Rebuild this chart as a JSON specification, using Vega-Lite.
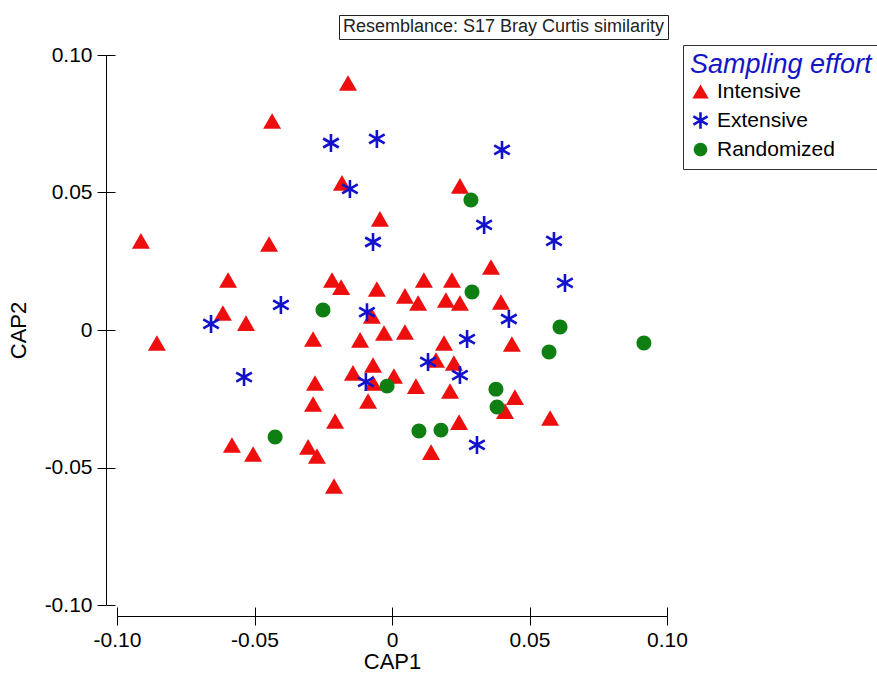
{
  "$schema": "https://vega.github.io/schema/vega-lite/v6.json",
  "width": 550,
  "height": 550,
  "autosize": {"type": "none"},
  "padding": {"left": 117, "top": 55, "right": 210, "bottom": 68},
  "background": "white",
  "config": {
    "view": {"stroke": null},
    "font": "Liberation Sans",
    "axis": {"grid": false, "domainColor": "#000", "tickColor": "#000", "labelColor": "#000", "titleColor": "#000", "titleFontWeight": "normal", "domainWidth": 1, "tickWidth": 1, "labelFlush": false}
  },
  "data": {
    "values": [
      {"cap1": -0.0160, "cap2": 0.0898, "effort": "Intensive"},
      {"cap1": -0.0436, "cap2": 0.0760, "effort": "Intensive"},
      {"cap1": -0.0182, "cap2": 0.0535, "effort": "Intensive"},
      {"cap1": 0.0247, "cap2": 0.0524, "effort": "Intensive"},
      {"cap1": -0.0044, "cap2": 0.0404, "effort": "Intensive"},
      {"cap1": -0.0913, "cap2": 0.0324, "effort": "Intensive"},
      {"cap1": -0.0447, "cap2": 0.0313, "effort": "Intensive"},
      {"cap1": 0.0360, "cap2": 0.0229, "effort": "Intensive"},
      {"cap1": -0.0596, "cap2": 0.0182, "effort": "Intensive"},
      {"cap1": -0.0218, "cap2": 0.0182, "effort": "Intensive"},
      {"cap1": -0.0185, "cap2": 0.0156, "effort": "Intensive"},
      {"cap1": -0.0055, "cap2": 0.0149, "effort": "Intensive"},
      {"cap1": 0.0116, "cap2": 0.0182, "effort": "Intensive"},
      {"cap1": 0.0218, "cap2": 0.0182, "effort": "Intensive"},
      {"cap1": 0.0047, "cap2": 0.0124, "effort": "Intensive"},
      {"cap1": 0.0095, "cap2": 0.0098, "effort": "Intensive"},
      {"cap1": 0.0196, "cap2": 0.0109, "effort": "Intensive"},
      {"cap1": 0.0247, "cap2": 0.0098, "effort": "Intensive"},
      {"cap1": 0.0396, "cap2": 0.0102, "effort": "Intensive"},
      {"cap1": -0.0615, "cap2": 0.0062, "effort": "Intensive"},
      {"cap1": -0.0531, "cap2": 0.0025, "effort": "Intensive"},
      {"cap1": -0.0073, "cap2": 0.0051, "effort": "Intensive"},
      {"cap1": -0.0855, "cap2": -0.0047, "effort": "Intensive"},
      {"cap1": -0.0287, "cap2": -0.0033, "effort": "Intensive"},
      {"cap1": -0.0116, "cap2": -0.0036, "effort": "Intensive"},
      {"cap1": -0.0029, "cap2": -0.0011, "effort": "Intensive"},
      {"cap1": 0.0047, "cap2": -0.0007, "effort": "Intensive"},
      {"cap1": 0.0189, "cap2": -0.0047, "effort": "Intensive"},
      {"cap1": 0.0225, "cap2": -0.0120, "effort": "Intensive"},
      {"cap1": 0.0436, "cap2": -0.0051, "effort": "Intensive"},
      {"cap1": 0.0160, "cap2": -0.0109, "effort": "Intensive"},
      {"cap1": -0.0069, "cap2": -0.0127, "effort": "Intensive"},
      {"cap1": -0.0142, "cap2": -0.0156, "effort": "Intensive"},
      {"cap1": 0.0007, "cap2": -0.0167, "effort": "Intensive"},
      {"cap1": -0.0069, "cap2": -0.0193, "effort": "Intensive"},
      {"cap1": 0.0087, "cap2": -0.0204, "effort": "Intensive"},
      {"cap1": 0.0211, "cap2": -0.0222, "effort": "Intensive"},
      {"cap1": -0.0087, "cap2": -0.0258, "effort": "Intensive"},
      {"cap1": -0.0207, "cap2": -0.0331, "effort": "Intensive"},
      {"cap1": 0.0244, "cap2": -0.0335, "effort": "Intensive"},
      {"cap1": 0.0142, "cap2": -0.0444, "effort": "Intensive"},
      {"cap1": -0.0211, "cap2": -0.0567, "effort": "Intensive"},
      {"cap1": 0.0447, "cap2": -0.0244, "effort": "Intensive"},
      {"cap1": 0.0411, "cap2": -0.0295, "effort": "Intensive"},
      {"cap1": 0.0575, "cap2": -0.0320, "effort": "Intensive"},
      {"cap1": -0.0582, "cap2": -0.0418, "effort": "Intensive"},
      {"cap1": -0.0505, "cap2": -0.0451, "effort": "Intensive"},
      {"cap1": -0.0305, "cap2": -0.0425, "effort": "Intensive"},
      {"cap1": -0.0273, "cap2": -0.0458, "effort": "Intensive"},
      {"cap1": -0.0280, "cap2": -0.0193, "effort": "Intensive"},
      {"cap1": -0.0287, "cap2": -0.0269, "effort": "Intensive"},
      {"cap1": -0.0222, "cap2": 0.0680, "effort": "Extensive"},
      {"cap1": -0.0055, "cap2": 0.0695, "effort": "Extensive"},
      {"cap1": 0.0400, "cap2": 0.0655, "effort": "Extensive"},
      {"cap1": -0.0153, "cap2": 0.0513, "effort": "Extensive"},
      {"cap1": 0.0335, "cap2": 0.0382, "effort": "Extensive"},
      {"cap1": -0.0069, "cap2": 0.0320, "effort": "Extensive"},
      {"cap1": 0.0589, "cap2": 0.0324, "effort": "Extensive"},
      {"cap1": 0.0629, "cap2": 0.0171, "effort": "Extensive"},
      {"cap1": -0.0404, "cap2": 0.0091, "effort": "Extensive"},
      {"cap1": -0.0658, "cap2": 0.0022, "effort": "Extensive"},
      {"cap1": -0.0091, "cap2": 0.0065, "effort": "Extensive"},
      {"cap1": 0.0425, "cap2": 0.0040, "effort": "Extensive"},
      {"cap1": 0.0273, "cap2": -0.0033, "effort": "Extensive"},
      {"cap1": -0.0538, "cap2": -0.0171, "effort": "Extensive"},
      {"cap1": 0.0131, "cap2": -0.0116, "effort": "Extensive"},
      {"cap1": 0.0247, "cap2": -0.0164, "effort": "Extensive"},
      {"cap1": -0.0095, "cap2": -0.0189, "effort": "Extensive"},
      {"cap1": 0.0309, "cap2": -0.0418, "effort": "Extensive"},
      {"cap1": 0.0287, "cap2": 0.0473, "effort": "Randomized"},
      {"cap1": 0.0291, "cap2": 0.0138, "effort": "Randomized"},
      {"cap1": -0.0251, "cap2": 0.0073, "effort": "Randomized"},
      {"cap1": 0.0611, "cap2": 0.0011, "effort": "Randomized"},
      {"cap1": 0.0571, "cap2": -0.0080, "effort": "Randomized"},
      {"cap1": 0.0916, "cap2": -0.0047, "effort": "Randomized"},
      {"cap1": -0.0018, "cap2": -0.0204, "effort": "Randomized"},
      {"cap1": 0.0378, "cap2": -0.0215, "effort": "Randomized"},
      {"cap1": 0.0382, "cap2": -0.0280, "effort": "Randomized"},
      {"cap1": 0.0098, "cap2": -0.0367, "effort": "Randomized"},
      {"cap1": 0.0178, "cap2": -0.0364, "effort": "Randomized"},
      {"cap1": -0.0425, "cap2": -0.0389, "effort": "Randomized"}
    ]
  },
  "layer": [
    {
      "mark": {"type": "point", "filled": true, "size": 324, "strokeWidth": 2.6, "opacity": 1},
      "encoding": {
        "x": {
          "field": "cap1", "type": "quantitative",
          "scale": {"domain": [-0.1, 0.1], "nice": false, "zero": false},
          "axis": {
            "orient": "bottom", "offset": 11, "values": [-0.1, -0.05, 0, 0.05, 0.1],
            "tickSize": 9, "labelPadding": 4, "labelFontSize": 21, "labelFont": "Liberation Sans",
            "labelExpr": "datum.value == 0 ? '0' : replace(format(datum.value, '.2f'), '\u2212', '-')",
            "title": "CAP1", "titleFontSize": 22, "titlePadding": 1
          }
        },
        "y": {
          "field": "cap2", "type": "quantitative",
          "scale": {"domain": [-0.1, 0.1], "nice": false, "zero": false},
          "axis": {
            "orient": "left", "offset": 11, "values": [-0.1, -0.05, 0, 0.05, 0.1],
            "tickSize": 9, "labelPadding": 5, "labelFontSize": 21, "labelFont": "Liberation Sans",
            "labelExpr": "datum.value == 0 ? '0' : replace(format(datum.value, '.2f'), '\u2212', '-')",
            "title": "CAP2", "titleFontSize": 22, "titlePadding": 14
          }
        },
        "shape": {
          "field": "effort", "type": "nominal",
          "scale": {
            "domain": ["Intensive", "Extensive", "Randomized"],
            "range": [
              "M0,-0.866L1,0.866L-1,0.866Z",
              "M0,-1L0,1M-0.866,-0.5L0.866,0.5M-0.866,0.5L0.866,-0.5",
              "M0.83,0A0.83,0.83 0 1,1 -0.83,0A0.83,0.83 0 1,1 0.83,0Z"
            ]
          },
          "legend": {
            "orient": "none", "legendX": 566, "legendY": -10,
            "title": "Sampling effort", "titleFont": "Liberation Sans", "titleFontStyle": "italic",
            "titleFontWeight": "normal", "titleFontSize": 27, "titleColor": "#1414C8", "titleLimit": 400,
            "titlePadding": 2, "labelFontSize": 21, "labelFont": "Liberation Sans", "labelColor": "#000",
            "labelOffset": 6, "symbolSize": 270, "symbolStrokeWidth": 2.6, "rowPadding": 3,
            "padding": 7, "strokeColor": "#333", "fillColor": "white"
          }
        },
        "fill": {
          "field": "effort", "type": "nominal",
          "scale": {"domain": ["Intensive", "Extensive", "Randomized"], "range": ["#EE0E0E", "transparent", "#0F7F14"]}
        },
        "stroke": {
          "field": "effort", "type": "nominal",
          "scale": {"domain": ["Intensive", "Extensive", "Randomized"], "range": ["transparent", "#1212CC", "transparent"]}
        }
      }
    },
    {
      "mark": {"type": "point", "opacity": 0, "size": 1},
      "encoding": {
        "x": {
          "field": "cap1", "type": "quantitative",
          "axis": {"orient": "bottom", "offset": 2, "values": [-0.1, -0.05, 0, 0.05, 0.1], "tickSize": 9, "domain": false, "labels": false, "title": null}
        },
        "y": {
          "field": "cap2", "type": "quantitative",
          "axis": {"orient": "left", "offset": 2, "values": [-0.1, -0.05, 0, 0.05, 0.1], "tickSize": 9, "domain": false, "labels": false, "title": null}
        },
        "strokeDash": {
          "datum": "Resemblance: S17 Bray Curtis similarity", "type": "nominal",
          "scale": {"range": [[1, 0]]},
          "legend": {
            "orient": "none", "legendX": 222, "legendY": -40, "title": null,
            "symbolSize": 0, "symbolOpacity": 0, "symbolStrokeWidth": 0, "labelOffset": -17,
            "labelFontSize": 18, "labelFont": "Liberation Sans", "labelColor": "#222", "labelLimit": 600,
            "padding": 3, "strokeColor": "#222", "fillColor": "white"
          }
        }
      }
    }
  ],
  "resolve": {"axis": {"x": "independent", "y": "independent"}}
}
